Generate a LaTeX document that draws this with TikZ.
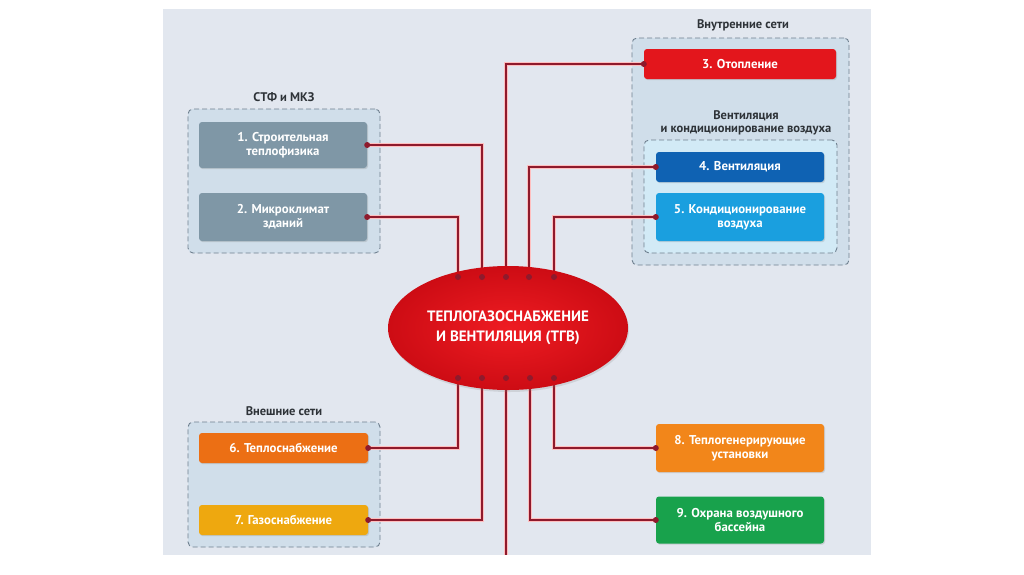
\documentclass[tikz,border=0pt]{standalone}
\usepackage{fontspec}
\setmainfont{PT Sans}
\usepackage{tikz}
\usetikzlibrary{positioning,shapes.geometric,shadows}
\definecolor{panelgray}{HTML}{E2E7EF}
\definecolor{grpfill}{HTML}{D0DEEA}
\definecolor{grpinner}{HTML}{D2EAF6}
\definecolor{grpline}{HTML}{6F808F}
\definecolor{titledark}{HTML}{2E3338}
\definecolor{slatebox}{HTML}{7F97A6}
\definecolor{heatred}{HTML}{E3161C}
\definecolor{ventblue}{HTML}{0F62B3}
\definecolor{airblue}{HTML}{1A9FDF}
\definecolor{supplyorange}{HTML}{EC6F14}
\definecolor{gasamber}{HTML}{EEA80F}
\definecolor{genorange}{HTML}{F2861A}
\definecolor{ecogreen}{HTML}{18A24C}
\definecolor{linkred}{HTML}{8E1A2C}

\begin{document}
\begin{tikzpicture}[x=1pt, y=-1pt,
  grp/.style={draw=grpline, fill=grpfill, line width=0.9pt, dash pattern=on 5pt off 3pt, rounded corners=5pt, inner sep=0pt},
  grptitle/.style={text=titledark, font=\fontsize{12.5}{12.5}\selectfont\bfseries, align=center, inner sep=0pt},
  topic/.style={rounded corners=3pt, inner sep=0pt, text=white, align=center, font=\fontsize{12.8}{14}\selectfont\bfseries, drop shadow={opacity=0.25, shadow xshift=1pt, shadow yshift=-1.2pt}},
  link/.style={draw=linkred, line width=1.6pt, preaction={draw=red!25, line width=3.2pt}},
  dot/.style={circle, fill=linkred, inner sep=0pt, minimum size=6pt}]
\useasboundingbox (0,0) rectangle (1024,574);
\fill[white] (0,0) rectangle (1024,574);
\fill[panelgray] (163,9) rectangle (871,555);
% groups
\node[grp, minimum width=192pt, minimum height=144pt] (g1) at (284,181) {};
\node[grptitle] (g1t) at (284,97) {СТФ и МКЗ};
\node[grp, minimum width=217pt, minimum height=227pt] (g2) at (740.5,151.5) {};
\node[grptitle] (g2t) at (743,25) {Внутренние сети};
\node[grp, fill=grpinner, minimum width=193pt, minimum height=113pt] (g3) at (740.5,196.5) {};
\node[grptitle] (g3t) at (746,123) {Вентиляция\\и кондиционирование воздуха};
\node[grp, minimum width=192pt, minimum height=125pt] (g4) at (284,484.5) {};
\node[grptitle] (g4t) at (284,411) {Внешние сети};
% topics
\node[topic, fill=slatebox, minimum width=168pt, minimum height=46pt] (b1) at (283,145) {1. Строительная\\теплофизика};
\node[topic, fill=slatebox, minimum width=168pt, minimum height=48pt] (b2) at (283,217) {2. Микроклимат\\зданий};
\node[topic, fill=heatred, minimum width=192pt, minimum height=30pt] (b3) at (740,64) {3. Отопление};
\node[topic, fill=ventblue, minimum width=168pt, minimum height=30pt] (b4) at (740,167) {4. Вентиляция};
\node[topic, fill=airblue, minimum width=168pt, minimum height=48pt] (b5) at (740,217) {5. Кондиционирование\\воздуха};
\node[topic, fill=supplyorange, minimum width=169pt, minimum height=30pt] (b6) at (283.5,448) {6. Теплоснабжение};
\node[topic, fill=gasamber, minimum width=169pt, minimum height=30pt] (b7) at (283.5,520) {7. Газоснабжение};
\node[topic, fill=genorange, minimum width=168pt, minimum height=48pt] (b8) at (740,448) {8. Теплогенерирующие\\установки};
\node[topic, fill=ecogreen, minimum width=168pt, minimum height=47pt] (b9) at (740,520) {9. Охрана воздушного\\бассейна};
% centre
\coordinate (t1) at (458,277);
\coordinate (t2) at (482,277);
\coordinate (t3) at (506,277);
\coordinate (t4) at (529,277);
\coordinate (t5) at (554,277);
\coordinate (u1) at (458,378);
\coordinate (u2) at (482,378);
\coordinate (u3) at (506,378);
\coordinate (u4) at (530,378);
\coordinate (u5) at (554,378);
\coordinate (down) at (506,555);
\draw[link] (b1.east) -| (t2);
\draw[link] (b2.east) -| (t1);
\draw[link] (b3.west) -| (t3);
\draw[link] (b4.west) -| (t4);
\draw[link] (b5.west) -| (t5);
\draw[link] (b6.east) -| (u1);
\draw[link] (b7.east) -| (u2);
\draw[link] (u3) -- (down);
\draw[link] (b9.west) -| (u4);
\draw[link] (b8.west) -| (u5);
\node[ellipse, inner sep=0pt, minimum width=240pt, minimum height=124pt, inner color={rgb,255:red,238;green,28;blue,34}, outer color={rgb,255:red,205;green,12;blue,20}, drop shadow={opacity=0.2, shadow xshift=1pt, shadow yshift=-2pt}, text=white, align=center, font=\fontsize{15}{20}\selectfont\bfseries] (tgv) at (508,328) {ТЕПЛОГАЗОСНАБЖЕНИЕ\\И ВЕНТИЛЯЦИЯ (ТГВ)};
\foreach \p in {t1,t2,t3,t4,t5,u1,u2,u3,u4,u5,b1.east,b2.east,b6.east,b7.east,b3.west,b4.west,b5.west,b8.west,b9.west}
  \node[dot] at (\p) {};
\end{tikzpicture}
\end{document}
